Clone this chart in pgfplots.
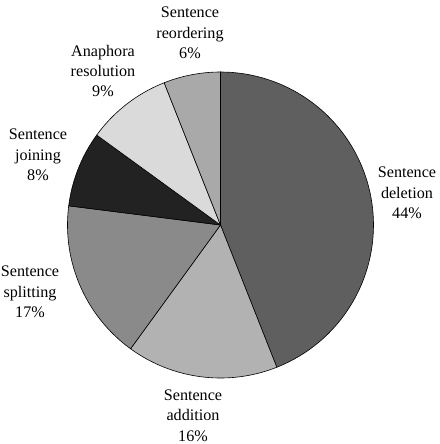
\documentclass[border=0pt]{standalone}
\usepackage{pgfplots}
\pgfplotsset{compat=1.18}
\usepackage{fontspec}
\setmainfont{Liberation Serif}

\definecolor{cdel}{HTML}{5F5F5F}
\definecolor{cadd}{HTML}{B2B2B2}
\definecolor{cspl}{HTML}{8A8A8A}
\definecolor{cjoi}{HTML}{222222}
\definecolor{cana}{HTML}{DADADA}
\definecolor{creo}{HTML}{A9A9A9}

% one wedge: #1 share already used (percent), #2 share of this slice, #3 colour
\newcommand{\pieslice}[3]{%
  \pgfmathsetmacro\angA{90-3.6*(#1+#2)}%
  \pgfmathsetmacro\angB{90-3.6*(#1)}%
  \addplot[draw=black, line width=0.6pt, fill=#3, domain=\angA:\angB,
    samples=90, variable=\t]
    ({220.5+153*cos(\t)},{225-153*sin(\t)}) -- (axis cs:220.5,225) -- cycle;
}

\begin{document}
\begin{tikzpicture}
\begin{axis}[
  scale only axis,
  width=440bp, height=444bp,
  xmin=0, xmax=440, ymin=0, ymax=444,
  y dir=reverse,
  hide axis,
  clip=false,
  nodes={font=\fontsize{16.2}{20.5}\selectfont, align=center, inner sep=0pt,
    overlay},
]
  % page frame (invisible)
  \path (axis cs:0,0) rectangle (axis cs:440,444);

  \pieslice{0}{44}{cdel}
  \pieslice{44}{16}{cadd}
  \pieslice{60}{17}{cspl}
  \pieslice{77}{8}{cjoi}
  \pieslice{85}{9}{cana}
  \pieslice{94}{6}{creo}

  \node at (axis cs:407,193) {Sentence\\deletion\\44\%};
  \node at (axis cs:193,415.5) {Sentence\\addition\\16\%};
  \node at (axis cs:30,292) {Sentence\\splitting\\17\%};
  \node at (axis cs:38,155) {Sentence\\joining\\8\%};
  \node at (axis cs:103,71) {Anaphora\\resolution\\9\%};
  \node at (axis cs:190,33) {Sentence\\reordering\\6\%};
\end{axis}
\end{tikzpicture}
\end{document}
